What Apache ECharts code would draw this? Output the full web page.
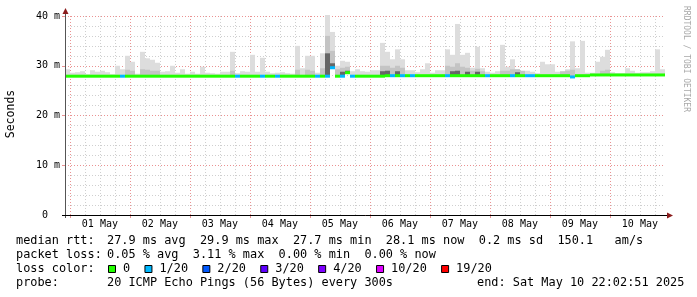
<!DOCTYPE html>
<html><head><meta charset="utf-8">
<script src="https://cdn.jsdelivr.net/npm/echarts@6/dist/echarts.min.js"></script>
<style>html,body{margin:0;padding:0;background:#fff}#c{width:697px;height:297px}</style>
</head><body><div id="c"></div>
<script>
// ---- data ----
const START_HOUR = -1.95;   // Apr 30 22:03, hours relative to 01 May 00:00
const END_HOUR = 238.05;    // May 10 22:03
const BIN_HOURS = 2;
const dayLabels = ['01 May','02 May','03 May','04 May','05 May','06 May','07 May','08 May','09 May','10 May'];
const yTicks = [0, 10, 20, 30, 40];

const median = [
27.9,27.9,27.9,27.9,27.9,27.9,27.9,27.9,27.9,27.9,
27.9,27.9,27.9,27.9,27.9,27.9,27.9,27.9,27.9,27.9,
27.9,27.9,27.9,27.9,27.9,27.9,27.9,27.9,27.9,27.9,
27.9,27.9,27.9,27.9,27.9,27.9,27.9,27.9,27.9,27.9,
27.9,27.9,27.9,27.9,27.9,27.9,27.9,27.9,27.9,27.9,
27.9,27.9,27.9,29.6,27.9,27.9,28.6,27.9,27.9,27.9,
27.9,27.9,27.9,27.9,28.0,28.0,28.0,28.0,28.0,28.0,
28.0,28.0,28.0,28.0,28.0,28.0,28.0,28.0,28.0,28.0,
28.0,28.0,28.0,28.0,28.0,28.0,28.0,28.0,28.0,28.0,
28.0,28.0,28.0,28.0,28.0,28.0,28.0,28.0,28.0,28.0,
28.0,27.75,28.0,28.0,28.0,28.15,28.15,28.15,28.15,28.15,
28.15,28.15,28.15,28.15,28.15,28.15,28.15,28.15,28.15,28.15];

const smokeTop = [
29.3,28.6,28.7,28.9,28.3,29.1,28.8,29.0,28.7,28.3,
30.0,29.3,32.0,30.8,28.4,32.8,31.5,31.2,30.6,28.8,
28.9,30.0,28.6,29.3,28.4,28.8,28.4,29.8,28.6,28.5,
28.4,28.8,28.8,32.8,28.5,28.9,28.8,32.2,28.8,31.6,
28.8,28.5,28.6,28.7,28.5,28.4,34.0,29.5,32.0,32.0,
28.6,32.5,40.2,36.8,30.0,31.0,30.8,28.9,29.3,28.9,
28.8,29.1,29.1,34.6,32.8,31.3,33.3,31.3,29.1,29.1,
28.7,29.3,30.5,28.6,29.1,29.1,33.3,32.2,38.4,32.2,
32.6,29.6,33.8,29.5,28.8,28.6,28.9,34.2,29.8,31.3,
29.3,28.8,29.0,28.8,28.5,30.8,30.3,30.3,28.8,28.8,
29.3,34.9,29.5,35.0,28.6,28.6,30.8,31.8,33.2,28.7,
28.5,28.5,29.5,29.0,28.6,28.7,28.7,28.9,33.3,29.3];

const smokeMid = [
null,null,null,null,null,null,null,null,null,null,
null,null,29.2,29.0,null,29.3,29.2,29.0,29.0,null,
null,null,null,null,null,null,null,null,null,null,
null,null,null,29.0,null,null,null,null,null,null,
null,null,null,null,null,null,29.2,null,29.2,29.0,
null,29.5,36.0,33.0,29.3,29.6,29.8,null,null,null,
null,null,null,30.0,30.0,29.6,30.0,29.6,null,null,
null,null,null,null,null,null,30.0,29.8,30.5,29.8,
29.6,29.0,29.4,28.9,null,null,null,29.0,29.0,29.3,
29.3,29.0,null,null,null,null,null,null,null,28.9,
29.0,29.2,null,null,null,null,null,29.0,29.2,null,
null,null,null,null,null,null,null,null,null,null];

const smokeDark = [
null,null,null,null,null,null,null,null,null,null,
null,null,null,null,null,null,null,null,null,null,
null,null,null,null,null,null,null,null,null,null,
null,null,null,null,null,null,null,null,null,null,
null,null,null,null,null,null,null,null,null,null,
null,null,32.5,30.5,null,28.8,29.0,null,null,null,
null,null,null,28.9,29.0,null,28.9,null,null,null,
null,null,null,null,null,null,null,28.9,29.0,null,
28.8,null,28.8,null,null,null,null,null,null,null,
28.7,null,null,null,null,null,null,null,null,null,
null,null,null,null,null,null,null,null,null,null,
null,null,null,null,null,null,null,null,null,null];

// loss level index per bin (0 = 0/20, 1 = 1/20)
const loss = [
0,0,0,0,0,0,0,0,0,0,
0,1,0,0,0,0,0,0,0,0,
0,0,0,0,0,0,0,0,0,0,
0,0,0,0,1,0,0,0,0,1,
0,0,1,0,0,0,0,0,0,0,
1,0,1,1,0,1,0,1,0,0,
0,0,0,0,0,1,0,1,0,1,
0,0,0,0,0,0,1,0,0,0,
0,0,0,0,1,0,0,0,0,1,
0,0,1,1,0,0,0,0,0,0,
0,1,0,0,0,0,0,0,0,0,
0,0,0,0,0,0,0,0,0,0];

const lossLegend = ['0','1/20','2/20','3/20','4/20','10/20','19/20'];
const lossColors = ['#22ff00','#00b8ff','#0059ff','#5e00ff','#7e00ff','#dd00ff','#ff0000'];

const rttLabel = 'median rtt:';
const rttStats = '27.9 ms avg  29.9 ms max  27.7 ms min  28.1 ms now  0.2 ms sd  150.1   am/s';
const lossLabel = 'packet loss:';
const lossStats = '0.05 % avg  3.11 % max  0.00 % min  0.00 % now';
const colorLabel = 'loss color:';
const probeLabel = 'probe:';
const probeText = '20 ICMP Echo Pings (56 Bytes) every 300s';
const endText = 'end: Sat May 10 22:02:51 2025';
const yTitle = 'Seconds';
const watermark = 'RRDTOOL / TOBI OETIKER';

// ---- layout / style ----
const GL = 65, GT = 16, GW = 600, GH = 199;
const MONO = 'DejaVu Sans Mono';
const CW = 7.15;             // legend char advance
const LFS = 11.88;           // legend font size
const MINOR = '#cfcfcf', MAJOR = '#ea9292', ARROW = '#8b1c1c';
const SMOKE = ['#dddddd', '#c4c4c4', '#666666'];

const gridHours = [];
for (let h = 0; h <= 234; h += 6) gridHours.push(h);
const noonHours = dayLabels.map((d, i) => 12 + 24 * i);

const bins = median.map((m, i) => [START_HOUR + i * BIN_HOURS, START_HOUR + (i + 1) * BIN_HOURS, m, smokeTop[i], smokeMid[i], smokeDark[i], loss[i]]);

const chart = echarts.init(document.getElementById('c'), null, {renderer: 'canvas'});

const graphic = [];
function txt(x, y, s, extra) {
  graphic.push(Object.assign({type: 'text', x, y, silent: true,
    style: Object.assign({text: s, fill: '#000', font: LFS + 'px "' + MONO + '"', align: 'left', verticalAlign: 'middle'}, extra && extra.style || {})},
    extra && extra.el || {}));
}
// axes lines and arrows
graphic.push({type: 'line', silent: true, shape: {x1: GL + 0.5, y1: GT - 3, x2: GL + 0.5, y2: GT + GH + 3}, style: {stroke: '#555', lineWidth: 1}, z: 50});
graphic.push({type: 'line', silent: true, shape: {x1: GL - 3, y1: GT + GH + 0.5, x2: GL + GW + 4, y2: GT + GH + 0.5}, style: {stroke: '#000', lineWidth: 1}, z: 50});
graphic.push({type: 'polygon', silent: true, shape: {points: [[GL - 2.5, GT - 2], [GL + 3.5, GT - 2], [GL + 0.5, GT - 8]]}, style: {fill: ARROW}, z: 51});
graphic.push({type: 'polygon', silent: true, shape: {points: [[GL + GW + 2, GT + GH - 2.5], [GL + GW + 2, GT + GH + 3.5], [GL + GW + 8, GT + GH + 0.5]]}, style: {fill: ARROW}, z: 51});

// titles
txt(11, 114, yTitle, {style: {font: '11.5px "' + MONO + '"', align: 'center'}, el: {rotation: Math.PI / 2}});
txt(686, 59, watermark, {style: {font: '8px "' + MONO + '"', align: 'center', fill: '#a8a8a8'}, el: {rotation: -Math.PI / 2}});

// legend
const L1 = 241, L2 = 255, L3 = 269, L4 = 283, VX = 107;
txt(16, L1, rttLabel); txt(VX, L1, rttStats);
txt(16, L2, lossLabel); txt(VX, L2, lossStats);
txt(16, L3, colorLabel);
let bx = 108;
lossLegend.forEach((lab, i) => {
  graphic.push({type: 'rect', silent: true, shape: {x: bx + 0.5, y: L3 - 3.5, width: 7, height: 7}, style: {fill: lossColors[i], stroke: '#000', lineWidth: 1}});
  txt(bx + 15, L3, lab);
  bx += 15 + lab.length * CW + 14.3;
});
txt(16, L4, probeLabel); txt(VX, L4, probeText);
txt(477, L4, endText);

chart.setOption({
  animation: false,
  backgroundColor: '#fff',
  grid: {left: GL, top: GT, width: GW, height: GH},
  xAxis: {
    type: 'value', min: START_HOUR, max: END_HOUR,
    axisLine: {show: false}, axisTick: {show: false}, splitLine: {show: false},
    axisLabel: {
      customValues: noonHours, margin: 4, color: '#000', fontFamily: MONO, fontSize: 10,
      formatter: v => dayLabels[Math.round((v - 12) / 24)]
    }
  },
  yAxis: [{
    type: 'value', min: 0, max: 40, interval: 2,
    axisLine: {show: false}, axisTick: {show: false}, axisLabel: {show: false},
    splitLine: {show: true, lineStyle: {color: [MAJOR, MINOR, MINOR, MINOR, MINOR], type: [1, 2], width: 1}}
  }, {
    type: 'value', min: 0, max: 40, interval: 10, position: 'left', offset: 0,
    axisLine: {show: false}, splitLine: {show: false},
    axisTick: {show: true, length: 3, lineStyle: {color: MAJOR}},
    axisLabel: {margin: 5, color: '#000', fontFamily: MONO, fontSize: 10,
      formatter: v => v === 0 ? '0  ' : v + ' m'}
  }],
  graphic: graphic,
  series: [{
    type: 'custom', name: 'grid', silent: true, z: 1,
    data: gridHours.map(h => [h]),
    renderItem: (params, api) => {
      const h = api.value(0);
      const day = h % 24 === 0;
      const t = api.coord([h, 40]), b = api.coord([h, 0]);
      const x = Math.round(t[0]) + 0.5;
      const ch = [{type: 'line', shape: {x1: x, y1: t[1], x2: x, y2: b[1]}, style: {stroke: day ? MAJOR : MINOR, lineWidth: 1, lineDash: [1, 2]}}];
      if (day) ch.push({type: 'line', shape: {x1: x, y1: b[1], x2: x, y2: b[1] + 3}, style: {stroke: MAJOR, lineWidth: 1}});
      return {type: 'group', children: ch};
    }
  }, {
    type: 'custom', name: 'smoke', silent: true, z: 2,
    data: bins,
    renderItem: (params, api) => {
      const x0 = api.value(0), x1 = api.value(1), m = api.value(2);
      const ch = [];
      [3, 4, 5].forEach((k, j) => {
        const top = api.value(k);
        if (top == null || isNaN(top) || top <= m) return;
        const p0 = api.coord([x0, m]), p1 = api.coord([x1, top]);
        ch.push({type: 'rect', shape: {x: p0[0], y: p1[1], width: p1[0] - p0[0], height: p0[1] - p1[1]}, style: {fill: SMOKE[j]}});
      });
      return {type: 'group', children: ch};
    }
  }, {
    type: 'custom', name: 'median', silent: true, z: 3,
    data: bins,
    renderItem: (params, api) => {
      const x0 = api.value(0), x1 = api.value(1), m = api.value(2);
      const p0 = api.coord([x0, m]), p1 = api.coord([x1, m]);
      return {type: 'rect', shape: {x: p0[0], y: p0[1] - 1.5, width: p1[0] - p0[0], height: 3}, style: {fill: lossColors[api.value(6)]}};
    }
  }]
});
</script>
</body></html>
